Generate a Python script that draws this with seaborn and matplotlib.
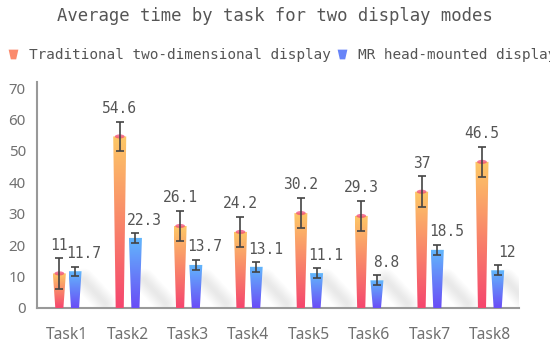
import numpy as np
import pandas as pd
import matplotlib
matplotlib.use("Agg")
import matplotlib.pyplot as plt
import seaborn as sns
from matplotlib.patches import Polygon, Ellipse
from matplotlib.path import Path
from matplotlib.lines import Line2D
from matplotlib.colors import LinearSegmentedColormap

# ---------------- data ----------------
tasks = ["Task1", "Task2", "Task3", "Task4", "Task5", "Task6", "Task7", "Task8"]
series = ["Traditional two-dimensional display", "MR head-mounted display"]
trad_values = [11, 54.6, 26.1, 24.2, 30.2, 29.3, 37, 46.5]
mr_values = [11.7, 22.3, 13.7, 13.1, 11.1, 8.8, 18.5, 12]
trad_err = [4.8, 4.75, 4.9, 4.9, 4.9, 4.9, 4.9, 4.8]
mr_err = [1.4, 1.5, 1.6, 1.5, 1.5, 1.6, 1.6, 1.6]
yticks = [0, 10, 20, 30, 40, 50, 60, 70]
title = "Average time by task for two display modes"

# ---------------- style ----------------
sns.set_theme(style="white")
plt.rcParams["font.family"] = ["Noto Sans", "DejaVu Sans"]
MONO = ["DejaVu Sans Mono"]
TXT = "#555555"

grad = {
    series[0]: ("#f5456e", "#fdc866"),   # bottom, top
    series[1]: ("#6a4cf6", "#62b8fc"),
}
mid = {series[0]: "#fb8a6c", series[1]: "#6784f8"}

fig = plt.figure(figsize=(5.5, 3.48), dpi=100)
ax = fig.add_axes([0.0673, 0.115, 0.876, 0.650])

df = pd.DataFrame({
    "task": tasks * 2,
    "value": trad_values + mr_values,
    "mode": [series[0]] * len(tasks) + [series[1]] * len(tasks),
})

sns.barplot(data=df, x="task", y="value", hue="mode", order=tasks,
            hue_order=series, palette=[mid[s] for s in series],
            width=0.52, gap=0.17, errorbar=None, legend=False, ax=ax)

values = {series[0]: trad_values, series[1]: mr_values}
errs = {series[0]: trad_err, series[1]: mr_err}
grad_arr = np.linspace(0, 1, 256).reshape(-1, 1)

for ci, s in enumerate(series):
    cont = ax.containers[ci]
    cmap = LinearSegmentedColormap.from_list(s, list(grad[s]))
    centers = []
    for rect in cont:
        x0, w, h = rect.get_x(), rect.get_width(), rect.get_height()
        rect.set_visible(False)
        xc = x0 + w / 2
        centers.append(xc)
        inset = 0.19 * w
        poly = Polygon([(x0, h), (x0 + w, h), (x0 + w - inset, 0), (x0 + inset, 0)],
                       closed=True, facecolor="none", edgecolor="none",
                       transform=ax.transData)
        ax.add_patch(poly)
        im = ax.imshow(grad_arr, cmap=cmap, origin="lower", aspect="auto",
                       extent=[x0, x0 + w, 0, h], zorder=3, interpolation="bilinear")
        im.set_clip_path(poly)
        if ci == 0:
            ax.add_patch(Ellipse((xc, h), width=w * 0.75, height=1.3,
                                 facecolor="#f04a78", alpha=0.75,
                                 edgecolor="none", zorder=4))
        else:
            # soft diagonal cast shadow
            for lw in np.linspace(16, 2, 8):
                ax.plot([xc + 0.14, xc + 0.5], [9.0, 1.5], color="#888888",
                        lw=lw, alpha=0.018, solid_capstyle="round", zorder=1)
    ax.errorbar(centers, values[s], yerr=errs[s], fmt="none", ecolor="#444444",
                elinewidth=1.2, capsize=3, capthick=1.2, zorder=5)
    dx = 0 if ci == 0 else 6.5
    for xc, v, e in zip(centers, values[s], errs[s]):
        ax.annotate(f"{v:g}", (xc, v + e), xytext=(dx, 4),
                    textcoords="offset points", ha="center", va="bottom",
                    fontsize=10.5, family=MONO, color=TXT, zorder=6)

ax.set_xlim(-0.5, 7.48)
ax.set_ylim(0, 72)
ax.set_yticks(yticks)
ax.set_xlabel("")
ax.set_ylabel("")
for side in ["top", "right"]:
    ax.spines[side].set_visible(False)
for side in ["left", "bottom"]:
    ax.spines[side].set_color("#999999")
    ax.spines[side].set_linewidth(1.5)
ax.tick_params(axis="both", length=0, colors="#707070")
ax.tick_params(axis="x", pad=14, labelsize=11.2)
ax.tick_params(axis="y", pad=8, labelsize=10.8)

fig.text(0.5, 1 - 16 / 348, title, ha="center", va="center",
         fontsize=12.4, family=MONO, color=TXT)

cup = Path([(-1, 1), (1, 1), (0.55, -1), (-0.55, -1), (-1, 1)],
           [Path.MOVETO, Path.LINETO, Path.LINETO, Path.LINETO, Path.CLOSEPOLY])
handles = [Line2D([], [], marker=cup, markersize=7, linestyle="none",
                  color=mid[s], markeredgecolor="none") for s in series]
fig.legend(handles, series, loc="center left",
           bbox_to_anchor=(0.0127, 1 - 55 / 348), ncol=2, frameon=False,
           prop={"family": MONO, "size": 10.4}, labelcolor=TXT,
           handlelength=0.8, handletextpad=0.7, columnspacing=0.42,
           borderaxespad=0, borderpad=0)

fig.savefig("out.png", dpi=100)
